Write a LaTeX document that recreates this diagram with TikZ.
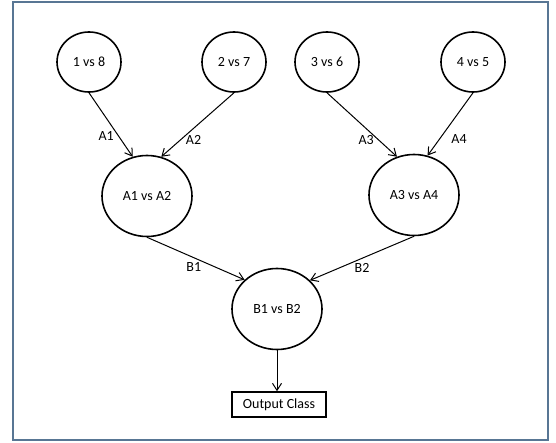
\documentclass[tikz,border=0pt]{standalone}
\usepackage{fontspec}
\setmainfont{Carlito}
\usepackage{tikz}
\usetikzlibrary{shapes.geometric,arrows.meta,positioning}
\definecolor{framegray}{RGB}{88,118,148}

\begin{document}
\begin{tikzpicture}[
      x=1pt, y=1pt,
      leaf/.style={ellipse, draw=black, line width=1.6pt, fill=white,
                   minimum width=64pt, minimum height=60pt, inner sep=0pt,
                   font=\fontsize{14}{16}\selectfont},
      vote/.style={leaf, minimum width=90pt, minimum height=81pt},
      outbox/.style={rectangle, draw=black, line width=1.5pt,
                     minimum width=94pt, minimum height=25pt, inner sep=0pt,
                     font=\fontsize{14}{16}\selectfont},
      arrow/.style={-{Straight Barb[length=7pt,width=9pt]}, line width=1pt},
      lbl/.style={font=\fontsize{14}{16}\selectfont, inner sep=4.5pt}
    ]
      \useasboundingbox (0,0) rectangle (556,442);
      \draw[framegray, line width=2pt] (13,2) rectangle (548,440);
      %% first round
      \node[leaf] (n18) at (89,380) {1 vs 8};
      \node[leaf] (n27) at (234,380) {2 vs 7};
      \node[leaf] (n36) at (327,380) {3 vs 6};
      \node[leaf] (n45) at (473,380) {4 vs 5};
      %% second round
      \node[vote] (a12) at (147,246) {A1 vs A2};
      \node[vote] (a34) at (414,247) {A3 vs A4};
      %% final
      \node[vote] (b12) at (277,133) {B1 vs B2};
      \node[outbox] (out) at (279,37.5) {Output Class};
      %% edges
      \draw[arrow] (n18.south) -- (a12.110)
          node[lbl, pos=0.68, left] (la1) {A1};
      \draw[arrow] (n27.south) -- (a12.70)
          node[lbl, pos=0.73, right] (la2) {A2};
      \draw[arrow] (n36.south) -- (a34.114)
          node[lbl, pos=0.74, left] (la3) {A3};
      \draw[arrow] (n45.south) -- (a34.71)
          node[lbl, pos=0.74, right=7pt] (la4) {A4};
      \draw[arrow] (a12.south) -- (b12.138)
          node[lbl, pos=0.48, below] (lb1) {B1};
      \draw[arrow] (a34.south) -- (b12.41)
          node[lbl, pos=0.5, below] (lb2) {B2};
      \draw[arrow] (b12.south) -- (b12.south |- out.north);
    \end{tikzpicture}
\end{document}
